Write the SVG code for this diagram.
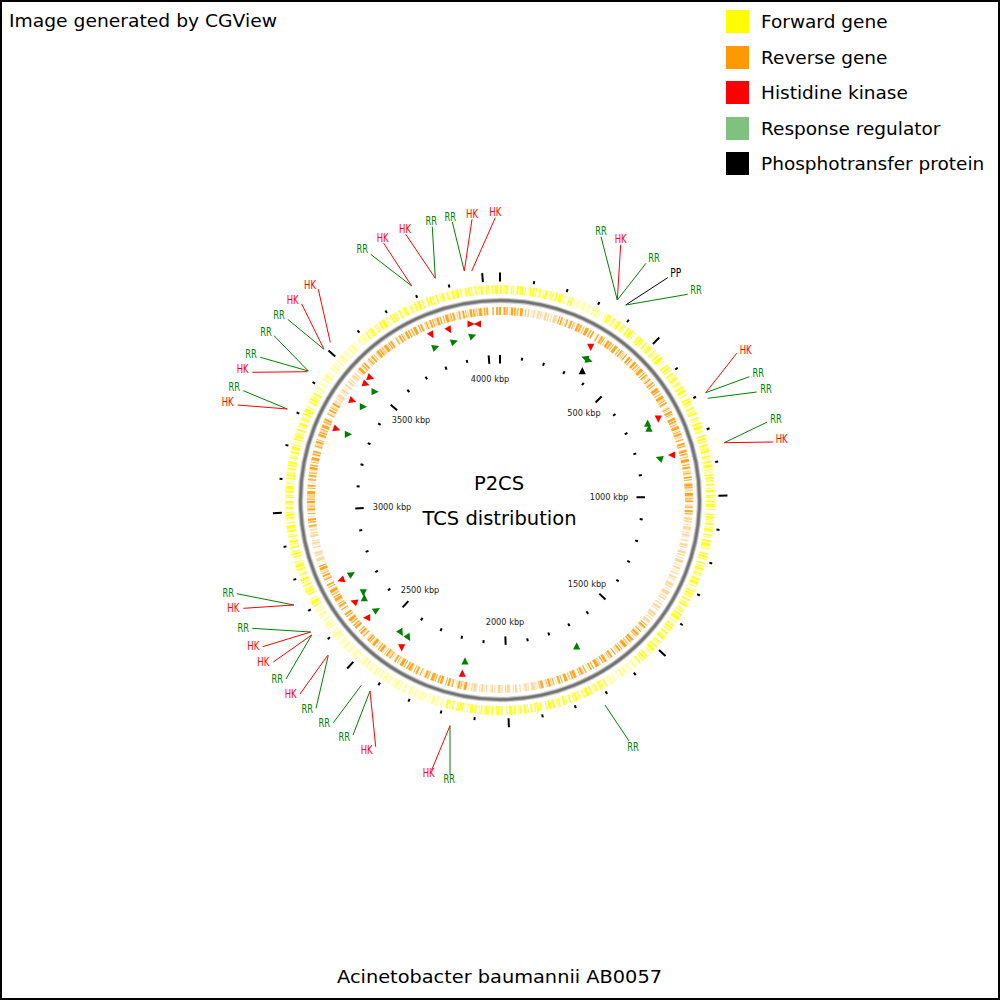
<svg xmlns="http://www.w3.org/2000/svg" xmlns:xlink="http://www.w3.org/1999/xlink" width="1000" height="1000" viewBox="0 0 1000 1000">
<style>
text{font-family:"DejaVu Sans","Liberation Sans",sans-serif}
.ttl{font-size:18px;fill:#000}
.leg{font-size:18.5px;fill:#000}
.ctr{font-size:19.5px;fill:#000;text-anchor:middle}
.kbp{font-size:8.2px;fill:#222;text-anchor:middle}
.lb{font-size:11.5px;text-anchor:middle}
.r{fill:#ff0000}
.g{fill:#008000}
.k{fill:#000}
.lr{stroke:#ff0000;stroke-width:1}
.lg{stroke:#008000;stroke-width:1}
.lk{stroke:#000;stroke-width:1}
.ring{fill:none}
</style>
<defs>
<g id="tmin" stroke="#000" stroke-width="2"><line x1="500" y1="356" x2="500" y2="359"/><line x1="500" y1="278.5" x2="500" y2="281.5"/></g>
<g id="tmaj" stroke="#000" stroke-width="2"><line x1="500" y1="355" x2="500" y2="363.5"/><line x1="500" y1="272.5" x2="500" y2="281.5"/></g>
<path id="tr" d="M-3.5,-3.6 L3.8,0 L-3.5,3.6 Z"/>
</defs>
<rect x="1" y="1" width="998" height="998" fill="#fff" stroke="#000" stroke-width="2"/>
<text class="ttl" x="9" y="27" textLength="268" lengthAdjust="spacingAndGlyphs">Image generated by CGView</text>
<g id="legend">
<rect x="726" y="10" width="23" height="23" fill="#ffff00"/><text class="leg" x="761" y="28">Forward gene</text>
<rect x="726" y="46" width="23" height="23" fill="#ff9900"/><text class="leg" x="761" y="63.5">Reverse gene</text>
<rect x="726" y="81" width="23" height="23" fill="#ff0000"/><text class="leg" x="761" y="99">Histidine kinase</text>
<rect x="726" y="117" width="23" height="23" fill="#80c080"/><text class="leg" x="761" y="134.5">Response regulator</text>
<rect x="726" y="152" width="23" height="23" fill="#000"/><text class="leg" x="761" y="170">Phosphotransfer protein</text>
</g>
<g id="forward-genes" transform="rotate(-90 500 500)">
<circle class="ring" cx="500" cy="500" r="210.5" stroke="#ffff80" stroke-width="9" opacity="0.6" stroke-dasharray="0.9 1.7 2.3 0.8 1.1 3.6 0.7 1.3 1.8 2.2 0.9 5.3 1.4 0.9"/>
<circle class="ring" cx="500" cy="500" r="210.5" stroke="#ffff00" stroke-width="9" opacity="0.85" stroke-dasharray="1.6 2.2 0.8 1.1 2.4 3.1 1.2 0.9 0.7 2.6 1.9 1.4 3.2 1.8 0.8 4.1 1.5 1.2 2.1 0.9 1.1 2.7"/>
<circle class="ring" cx="500" cy="500" r="210.5" stroke="#fff" stroke-width="10" opacity="0.55" stroke-dasharray="0 73 37 404 37 165 166 220 74 200"/>
</g>
<g id="backbone">
<circle class="ring" cx="500" cy="500" r="199.5" stroke="#cfcfcf" stroke-width="5.5"/>
<circle class="ring" cx="500" cy="500" r="199.5" stroke="#8a8a8a" stroke-width="3.4"/>
<circle class="ring" cx="500" cy="500" r="199.5" stroke="#707070" stroke-width="1.6"/>
</g>
<g id="reverse-genes" transform="rotate(-90 500 500)">
<circle class="ring" cx="500" cy="500" r="189" stroke="#ffc266" stroke-width="8" opacity="0.6" stroke-dasharray="1.2 2.1 0.8 1.6 2.7 1.1 0.9 3.4 1.5 0.8 2.2 1.9 0.7 4.2"/>
<circle class="ring" cx="500" cy="500" r="189" stroke="#ff9900" stroke-width="8" opacity="0.85" stroke-dasharray="1.1 2.6 1.9 1.2 0.8 3.3 2.4 1.0 1.3 2.1 0.7 1.6 3.0 2.4 0.9 1.3 1.7 4.4"/>
<circle class="ring" cx="500" cy="500" r="189" stroke="#fff" stroke-width="9" opacity="0.55" stroke-dasharray="0 26 33 254 116 125 73 198 39 126 40 160"/>
</g>
<g id="ticks">
<use href="#tmaj" transform="rotate(0 500 500)"/>
<use href="#tmin" transform="rotate(8.888 500 500)"/>
<use href="#tmin" transform="rotate(17.776 500 500)"/>
<use href="#tmin" transform="rotate(26.663 500 500)"/>
<use href="#tmin" transform="rotate(35.551 500 500)"/>
<use href="#tmaj" transform="rotate(44.439 500 500)"/>
<use href="#tmin" transform="rotate(53.327 500 500)"/>
<use href="#tmin" transform="rotate(62.215 500 500)"/>
<use href="#tmin" transform="rotate(71.102 500 500)"/>
<use href="#tmin" transform="rotate(79.99 500 500)"/>
<use href="#tmaj" transform="rotate(88.878 500 500)"/>
<use href="#tmin" transform="rotate(97.766 500 500)"/>
<use href="#tmin" transform="rotate(106.654 500 500)"/>
<use href="#tmin" transform="rotate(115.541 500 500)"/>
<use href="#tmin" transform="rotate(124.429 500 500)"/>
<use href="#tmaj" transform="rotate(133.317 500 500)"/>
<use href="#tmin" transform="rotate(142.205 500 500)"/>
<use href="#tmin" transform="rotate(151.093 500 500)"/>
<use href="#tmin" transform="rotate(159.98 500 500)"/>
<use href="#tmin" transform="rotate(168.868 500 500)"/>
<use href="#tmaj" transform="rotate(177.756 500 500)"/>
<use href="#tmin" transform="rotate(186.644 500 500)"/>
<use href="#tmin" transform="rotate(195.532 500 500)"/>
<use href="#tmin" transform="rotate(204.419 500 500)"/>
<use href="#tmin" transform="rotate(213.307 500 500)"/>
<use href="#tmaj" transform="rotate(222.195 500 500)"/>
<use href="#tmin" transform="rotate(231.083 500 500)"/>
<use href="#tmin" transform="rotate(239.971 500 500)"/>
<use href="#tmin" transform="rotate(248.858 500 500)"/>
<use href="#tmin" transform="rotate(257.746 500 500)"/>
<use href="#tmaj" transform="rotate(266.634 500 500)"/>
<use href="#tmin" transform="rotate(275.522 500 500)"/>
<use href="#tmin" transform="rotate(284.41 500 500)"/>
<use href="#tmin" transform="rotate(293.297 500 500)"/>
<use href="#tmin" transform="rotate(302.185 500 500)"/>
<use href="#tmaj" transform="rotate(311.073 500 500)"/>
<use href="#tmin" transform="rotate(319.961 500 500)"/>
<use href="#tmin" transform="rotate(328.849 500 500)"/>
<use href="#tmin" transform="rotate(337.736 500 500)"/>
<use href="#tmin" transform="rotate(346.624 500 500)"/>
<use href="#tmaj" transform="rotate(355.512 500 500)"/>
</g>
<g id="tick-labels">
<text class="kbp" x="490" y="382">4000 kbp</text>
<text class="kbp" x="411" y="423">3500 kbp</text>
<text class="kbp" x="392" y="510">3000 kbp</text>
<text class="kbp" x="420" y="593">2500 kbp</text>
<text class="kbp" x="505" y="625">2000 kbp</text>
<text class="kbp" x="587" y="587">1500 kbp</text>
<text class="kbp" x="609" y="500">1000 kbp</text>
<text class="kbp" x="584" y="416">500 kbp</text>
</g>
<g id="center-title">
<text class="ctr" x="499" y="490">P2CS</text>
<text class="ctr" x="499.5" y="525">TCS distribution</text>
</g>
<g id="hk-features" class="r">
<use href="#tr" transform="translate(471 324) rotate(0)"/>
<use href="#tr" transform="translate(477.5 324) rotate(180)"/>
<use href="#tr" transform="translate(449.3 330) rotate(60)"/>
<use href="#tr" transform="translate(431.7 335) rotate(60)"/>
<use href="#tr" transform="translate(370.7 377.7) rotate(20)"/>
<use href="#tr" transform="translate(366 384) rotate(20)"/>
<use href="#tr" transform="translate(352.7 400.7) rotate(20)"/>
<use href="#tr" transform="translate(336.7 429) rotate(20)"/>
<use href="#tr" transform="translate(590.7 347.3) rotate(90)"/>
<use href="#tr" transform="translate(658.3 419) rotate(90)"/>
<use href="#tr" transform="translate(671.7 455) rotate(180)"/>
<use href="#tr" transform="translate(341 580) rotate(160)"/>
<use href="#tr" transform="translate(354 601.7) rotate(200)"/>
<use href="#tr" transform="translate(366.7 617.7) rotate(180)"/>
<use href="#tr" transform="translate(401.7 647.7) rotate(90)"/>
<use href="#tr" transform="translate(462.3 673.3) rotate(270)"/>
</g>
<g id="rr-features" class="g">
<use href="#tr" transform="translate(472.7 336) rotate(-20)"/>
<use href="#tr" transform="translate(454.3 341.7) rotate(-20)"/>
<use href="#tr" transform="translate(435.7 347.3) rotate(-20)"/>
<use href="#tr" transform="translate(375 391.7) rotate(0)"/>
<use href="#tr" transform="translate(363.3 406.7) rotate(0)"/>
<use href="#tr" transform="translate(348.3 434.3) rotate(0)"/>
<use href="#tr" transform="translate(585 358) rotate(200)"/>
<use href="#tr" transform="translate(589 360.5) rotate(20)"/>
<use href="#tr" transform="translate(647.7 423.3) rotate(270)"/>
<use href="#tr" transform="translate(649 428.3) rotate(270)"/>
<use href="#tr" transform="translate(659.3 458.3) rotate(200)"/>
<use href="#tr" transform="translate(351.7 574) rotate(-30)"/>
<use href="#tr" transform="translate(363.3 592.7) rotate(90)"/>
<use href="#tr" transform="translate(364.3 597.7) rotate(270)"/>
<use href="#tr" transform="translate(376.7 610) rotate(-30)"/>
<use href="#tr" transform="translate(401 632.7) rotate(60)"/>
<use href="#tr" transform="translate(408.3 637.7) rotate(60)"/>
<use href="#tr" transform="translate(465 661) rotate(270)"/>
<use href="#tr" transform="translate(576.7 646) rotate(270)"/>
</g>
<g id="pp-features" class="k">
<use href="#tr" transform="translate(582.3 370.7) rotate(270)"/>
</g>
<g id="connectors">
<line class="lr" x1="318.3" y1="289.3" x2="330.3" y2="342.3"/>
<line class="lr" x1="301.7" y1="304" x2="324" y2="349.3"/>
<line class="lg" x1="287.7" y1="319.3" x2="324" y2="349.3"/>
<line class="lg" x1="274" y1="335.7" x2="308.3" y2="371"/>
<line class="lg" x1="260.3" y1="357.3" x2="308.3" y2="371"/>
<line class="lr" x1="252.3" y1="372.3" x2="307.3" y2="371.7"/>
<line class="lg" x1="243.3" y1="390.7" x2="287.3" y2="409"/>
<line class="lr" x1="237.7" y1="405" x2="287.3" y2="409"/>
<line class="lg" x1="370.7" y1="254.3" x2="411.7" y2="286"/>
<line class="lr" x1="383.7" y1="243.3" x2="411.7" y2="286"/>
<line class="lr" x1="405.7" y1="234.3" x2="435.3" y2="278.3"/>
<line class="lg" x1="432.3" y1="226.7" x2="435.3" y2="278.3"/>
<line class="lg" x1="452.3" y1="222" x2="464.3" y2="271"/>
<line class="lr" x1="472" y1="219.3" x2="464.3" y2="271"/>
<line class="lr" x1="495.3" y1="217.7" x2="471.7" y2="271"/>
<line class="lg" x1="601" y1="236.7" x2="617.3" y2="300"/>
<line class="lr" x1="620.7" y1="244.7" x2="617.3" y2="300"/>
<line class="lg" x1="646" y1="263.3" x2="617.3" y2="300"/>
<line class="lk" x1="667.7" y1="277.7" x2="625.7" y2="305"/>
<line class="lg" x1="687.7" y1="294.3" x2="625.7" y2="305"/>
<line class="lr" x1="736.7" y1="353.3" x2="705.7" y2="392.7"/>
<line class="lg" x1="749.3" y1="376.7" x2="705.7" y2="392.7"/>
<line class="lg" x1="756.7" y1="392" x2="707.7" y2="398.3"/>
<line class="lg" x1="767.3" y1="422" x2="724.3" y2="442.7"/>
<line class="lr" x1="773.3" y1="442" x2="724.3" y2="442.7"/>
<line class="lg" x1="236.7" y1="593.7" x2="294" y2="605"/>
<line class="lr" x1="243.3" y1="608.3" x2="294" y2="605"/>
<line class="lg" x1="252.3" y1="628.3" x2="310.7" y2="632"/>
<line class="lr" x1="262.7" y1="646.7" x2="310.7" y2="632"/>
<line class="lr" x1="273.3" y1="662" x2="311.7" y2="635"/>
<line class="lg" x1="286" y1="679" x2="311.7" y2="635"/>
<line class="lr" x1="300" y1="694" x2="327.7" y2="655.3"/>
<line class="lg" x1="316" y1="708.3" x2="328.3" y2="655.3"/>
<line class="lg" x1="333.3" y1="722.7" x2="361.3" y2="685.3"/>
<line class="lg" x1="353" y1="735" x2="370" y2="691"/>
<line class="lr" x1="375.7" y1="746.7" x2="370" y2="691"/>
<line class="lr" x1="431.7" y1="770" x2="450" y2="725.7"/>
<line class="lg" x1="450" y1="775" x2="450" y2="725.7"/>
<line class="lg" x1="629" y1="741" x2="605" y2="705"/>
</g>
<g id="feature-labels">
<text class="lb r" x="310" y="289" textLength="12" lengthAdjust="spacingAndGlyphs">HK</text>
<text class="lb r" x="292.7" y="304" textLength="12" lengthAdjust="spacingAndGlyphs">HK</text>
<text class="lb g" x="279" y="319.3" textLength="11.5" lengthAdjust="spacingAndGlyphs">RR</text>
<text class="lb g" x="266" y="336.3" textLength="11.5" lengthAdjust="spacingAndGlyphs">RR</text>
<text class="lb g" x="251" y="358" textLength="11.5" lengthAdjust="spacingAndGlyphs">RR</text>
<text class="lb r" x="242.7" y="373.3" textLength="12" lengthAdjust="spacingAndGlyphs">HK</text>
<text class="lb g" x="234.3" y="391.3" textLength="11.5" lengthAdjust="spacingAndGlyphs">RR</text>
<text class="lb r" x="227.7" y="406" textLength="12" lengthAdjust="spacingAndGlyphs">HK</text>
<text class="lb g" x="362.3" y="253" textLength="11.5" lengthAdjust="spacingAndGlyphs">RR</text>
<text class="lb r" x="382.7" y="242" textLength="12" lengthAdjust="spacingAndGlyphs">HK</text>
<text class="lb r" x="405" y="233" textLength="12" lengthAdjust="spacingAndGlyphs">HK</text>
<text class="lb g" x="431.3" y="225" textLength="11.5" lengthAdjust="spacingAndGlyphs">RR</text>
<text class="lb g" x="450.3" y="220.7" textLength="11.5" lengthAdjust="spacingAndGlyphs">RR</text>
<text class="lb r" x="472" y="218" textLength="12" lengthAdjust="spacingAndGlyphs">HK</text>
<text class="lb r" x="495.3" y="216.3" textLength="12" lengthAdjust="spacingAndGlyphs">HK</text>
<text class="lb g" x="601" y="235" textLength="11.5" lengthAdjust="spacingAndGlyphs">RR</text>
<text class="lb r" x="620.7" y="243.3" textLength="12" lengthAdjust="spacingAndGlyphs">HK</text>
<text class="lb g" x="654" y="262.3" textLength="11.5" lengthAdjust="spacingAndGlyphs">RR</text>
<text class="lb k" x="675.7" y="276.7" textLength="11" lengthAdjust="spacingAndGlyphs">PP</text>
<text class="lb g" x="696" y="294.3" textLength="11.5" lengthAdjust="spacingAndGlyphs">RR</text>
<text class="lb r" x="745.7" y="354" textLength="12" lengthAdjust="spacingAndGlyphs">HK</text>
<text class="lb g" x="758.3" y="377.3" textLength="11.5" lengthAdjust="spacingAndGlyphs">RR</text>
<text class="lb g" x="766" y="393" textLength="11.5" lengthAdjust="spacingAndGlyphs">RR</text>
<text class="lb g" x="776" y="423" textLength="11.5" lengthAdjust="spacingAndGlyphs">RR</text>
<text class="lb r" x="781.7" y="443.3" textLength="12" lengthAdjust="spacingAndGlyphs">HK</text>
<text class="lb g" x="228.3" y="597.3" textLength="11.5" lengthAdjust="spacingAndGlyphs">RR</text>
<text class="lb r" x="233.3" y="612.3" textLength="12" lengthAdjust="spacingAndGlyphs">HK</text>
<text class="lb g" x="243.3" y="632.3" textLength="11.5" lengthAdjust="spacingAndGlyphs">RR</text>
<text class="lb r" x="253.3" y="650" textLength="12" lengthAdjust="spacingAndGlyphs">HK</text>
<text class="lb r" x="263.3" y="666" textLength="12" lengthAdjust="spacingAndGlyphs">HK</text>
<text class="lb g" x="277.3" y="682.7" textLength="11.5" lengthAdjust="spacingAndGlyphs">RR</text>
<text class="lb r" x="290.7" y="698" textLength="12" lengthAdjust="spacingAndGlyphs">HK</text>
<text class="lb g" x="307.3" y="713" textLength="11.5" lengthAdjust="spacingAndGlyphs">RR</text>
<text class="lb g" x="324.3" y="727.3" textLength="11.5" lengthAdjust="spacingAndGlyphs">RR</text>
<text class="lb g" x="344.3" y="741.3" textLength="11.5" lengthAdjust="spacingAndGlyphs">RR</text>
<text class="lb r" x="366.7" y="754" textLength="12" lengthAdjust="spacingAndGlyphs">HK</text>
<text class="lb r" x="428.7" y="777.3" textLength="12" lengthAdjust="spacingAndGlyphs">HK</text>
<text class="lb g" x="449.3" y="783" textLength="11.5" lengthAdjust="spacingAndGlyphs">RR</text>
<text class="lb g" x="633" y="751" textLength="11.5" lengthAdjust="spacingAndGlyphs">RR</text>
</g>
<text class="ttl" x="499.5" y="983" text-anchor="middle" textLength="325" lengthAdjust="spacingAndGlyphs">Acinetobacter baumannii AB0057</text>
</svg>
